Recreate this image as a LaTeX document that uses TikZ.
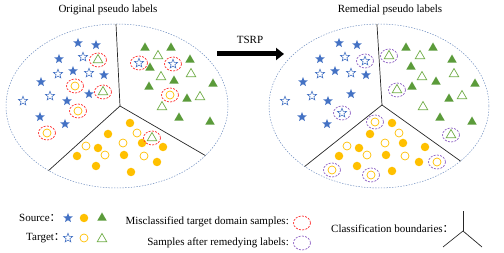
\documentclass[tikz,border=0pt]{standalone}
\usepackage{fontspec}
\setmainfont{Liberation Serif}
\newfontfamily\cjk{Noto Sans CJK SC}
\usetikzlibrary{shapes.geometric,arrows.meta,calc}
\definecolor{blueS}{HTML}{4472C4}
\definecolor{yelS}{HTML}{FFC000}
\definecolor{greenF}{HTML}{5B9B3A}
\definecolor{greenO}{HTML}{70AD47}
\definecolor{redD}{HTML}{FF2626}
\definecolor{purD}{HTML}{8A5CC2}
\definecolor{ellC}{HTML}{6F8EC0}
\tikzset{
  fstar/.style={star,star points=5,star point ratio=2.3,minimum size=10pt,inner sep=0pt,fill=blueS},
  ostar/.style={star,star points=5,star point ratio=2.3,minimum size=9.5pt,inner sep=0pt,draw=blueS,line width=0.6pt,fill=white},
  fcirc/.style={circle,minimum size=8.5pt,inner sep=0pt,fill=yelS},
  ocirc/.style={circle,minimum size=8pt,inner sep=0pt,draw=yelS,line width=0.7pt,fill=white},
  ftri/.style={regular polygon,regular polygon sides=3,minimum size=11pt,inner sep=0pt,fill=greenF},
  otri/.style={regular polygon,regular polygon sides=3,minimum size=11pt,inner sep=0pt,draw=greenO,line width=0.7pt,fill=white},
  redring/.style={draw=redD,dashed,dash pattern=on 2pt off 1.3pt,line width=0.7pt},
  purring/.style={draw=purD,dashed,dash pattern=on 2pt off 1.3pt,line width=0.7pt},
  bigell/.style={draw=ellC,dash pattern=on 1.4pt off 1.4pt,line width=0.5pt},
  bound/.style={draw=black!85,line width=0.7pt},
  lbl/.style={inner sep=0pt,font=\fontsize{11pt}{13pt}\selectfont},
}
\begin{document}
\begin{tikzpicture}[x=1pt,y=-1pt]
\useasboundingbox (0,0) rectangle (504,253);
% titles
\node[lbl] (t1) at (108,10) {Original pseudo labels};
\node[lbl] (t2) at (390,10) {Remedial pseudo labels};
\node[lbl] (tsrp) at (250,40) {TSRP};
\coordinate (arA) at (217,54);
\coordinate (arB) at (284,54);
\draw[line width=5pt,-{Triangle[length=8pt,width=12pt]}] (arA) -- (arB);
% ---------- left ellipse ----------
\draw[bigell] (117,106) ellipse [x radius=111, y radius=82];
\begin{scope}
\clip (117,106) ellipse [x radius=111, y radius=82];
\coordinate (jL) at (120,106);
\draw[bound] (jL) -- ($(jL)!3!(116,24)$);
\draw[bound] (jL) -- ($(jL)!3!(47,172)$);
\draw[bound] (jL) -- ($(jL)!3!(201,153)$);
\end{scope}
\foreach \p [count=\i] in {(78,43),(96,45),(59,59),(73,71),(104,75),(41,82),(89,94),(67,101),(40,117),(65,124)}
  \node[fstar] (lfs\i) at \p {};
\foreach \p [count=\i] in {(83,57),(58,74),(89,73),(50,96),(23,101),(139,63),(173,64)}
  \node[ostar] (los\i) at \p {};
\foreach \p [count=\i] in {(98,60),(103,92),(158,56),(191,74),(161,77),(200,97),(162,107),(152,138)}
  \node[otri] (lot\i) at \p {};
\foreach \p [count=\i] in {(145,48),(171,48),(190,60),(150,68),(174,81),(213,84),(149,87),(187,99),(179,118),(210,122)}
  \node[ftri] (lft\i) at \p {};
\foreach \p [count=\i] in {(75,86),(78,111),(47,133),(170,95),(137,133),(86,146),(123,143),(105,155),(144,156)}
  \node[ocirc] (loc\i) at \p {};
\foreach \p [count=\i] in {(130,123),(108,134),(142,143),(163,147),(98,148),(77,156),(124,155),(157,162),(96,166),(131,172)}
  \node[fcirc] (lfc\i) at \p {};
\foreach \p in {(98,60),(103,92),(75,86),(78,111),(47,133),(139,63),(173,64),(170,95),(152,138)}
  \draw[redring] \p ellipse [x radius=8.5, y radius=7];
% ---------- right ellipse ----------
\draw[bigell] (379,106) ellipse [x radius=110, y radius=82];
\begin{scope}
\clip (379,106) ellipse [x radius=110, y radius=82];
\coordinate (jR) at (382,105);
\draw[bound] (jR) -- ($(jR)!3!(377,25)$);
\draw[bound] (jR) -- ($(jR)!3!(304,167)$);
\draw[bound] (jR) -- ($(jR)!3!(459,160)$);
\end{scope}
\foreach \p [count=\i] in {(339,43),(357,45),(320,59),(335,71),(366,75),(303,82),(351,94),(328,101),(302,117),(327,124)}
  \node[fstar] (rfs\i) at \p {};
\foreach \p [count=\i] in {(345,57),(320,74),(351,73),(312,96),(285,101),(365,61),(342,113)}
  \node[ostar] (ros\i) at \p {};
\foreach \p [count=\i] in {(389,56),(420,56),(454,74),(422,77),(462,96),(423,107),(397,90),(451,135)}
  \node[otri] (rot\i) at \p {};
\foreach \p [count=\i] in {(406,48),(433,48),(452,60),(411,67),(436,82),(475,84),(412,87),(449,99),(440,118),(472,122)}
  \node[ftri] (rft\i) at \p {};
\foreach \p [count=\i] in {(375,122),(399,133),(347,146),(385,143),(367,155),(405,156),(437,162),(332,170),(371,175)}
  \node[ocirc] (roc\i) at \p {};
\foreach \p [count=\i] in {(392,123),(370,134),(403,143),(425,147),(359,148),(339,156),(386,155),(419,162),(357,166),(392,171)}
  \node[fcirc] (rfc\i) at \p {};
\foreach \p in {(365,61),(342,113),(389,56),(397,90),(451,135),(375,122),(437,162),(332,170),(371,175)}
  \draw[purring] \p ellipse [x radius=8.5, y radius=7];
% ---------- legend ----------
\node[lbl,anchor=west] (src) at (19,218) {Source{\cjk ：}};
\node[lbl,anchor=west] (tgt) at (26,238) {Target{\cjk ：}};
\node[fstar] (gfs) at (68,218) {};
\node[fcirc] (gfc) at (84,218) {};
\node[ftri] (gft) at (102,218) {};
\node[ostar] (gos) at (68,238) {};
\node[ocirc] (goc) at (84,238) {};
\node[otri] (got) at (102,239) {};
\node[lbl,anchor=east] (mis) at (289,222) {Misclassified target domain samples:};
\draw[redring] (302,223) ellipse [x radius=8.5, y radius=7];
\node[lbl,anchor=east] (rem) at (289,243) {Samples after remedying labels:};
\draw[purring] (302,243) ellipse [x radius=8.5, y radius=7];
\node[lbl,anchor=west] (cls) at (331,229) {Classification boundaries{\cjk ：}};
\coordinate (yJ) at (463,231);
\coordinate (yT) at (463,211);
\coordinate (yL) at (443,247);
\coordinate (yR) at (482,247);
\draw[bound] (yJ) -- (yT);
\draw[bound] (yJ) -- (yL);
\draw[bound] (yJ) -- (yR);
\end{tikzpicture}
\end{document}
